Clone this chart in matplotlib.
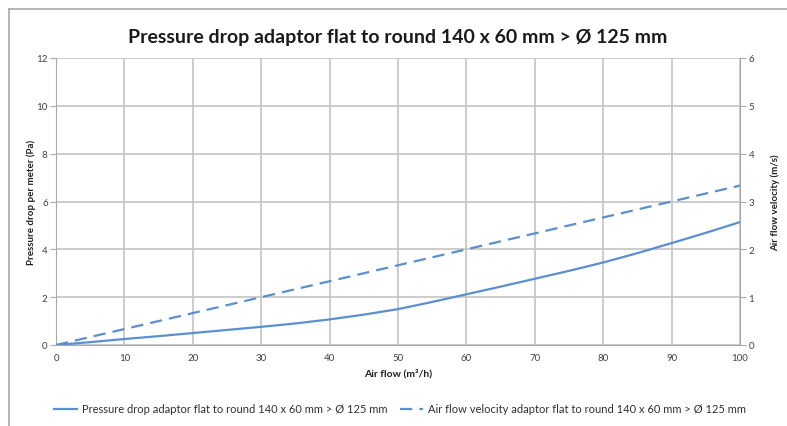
import matplotlib
matplotlib.use("Agg")
import matplotlib.pyplot as plt
from matplotlib.lines import Line2D

plt.rcParams['font.family'] = ['Lato', 'DejaVu Sans']

air_flow = [0, 5, 10, 15, 20, 25, 30, 35, 40, 45, 50, 55, 60, 65, 70, 75, 80, 85, 90, 95, 100]
pressure_drop = [0, 0.12, 0.25, 0.37, 0.5, 0.63, 0.76, 0.9, 1.07, 1.27, 1.5, 1.8, 2.12, 2.44, 2.77, 3.1, 3.45, 3.84, 4.26, 4.69, 5.14]
velocity = [0, 0.167, 0.333, 0.5, 0.667, 0.833, 1.0, 1.167, 1.333, 1.5, 1.667, 1.833, 2.0, 2.167, 2.333, 2.5, 2.667, 2.833, 3.0, 3.167, 3.333]

x_ticks = [0, 10, 20, 30, 40, 50, 60, 70, 80, 90, 100]
left_ticks = [0, 2, 4, 6, 8, 10, 12]
right_ticks = [0, 1, 2, 3, 4, 5, 6]

title = "Pressure drop adaptor flat to round 140 x 60 mm > Ø 125 mm"
label_pressure = "Pressure drop adaptor flat to round 140 x 60 mm > Ø 125 mm"
label_velocity = "Air flow velocity adaptor flat to round 140 x 60 mm > Ø 125 mm"

color = "#5a8fd0"
grid_c = "#c4c4c4"
text_c = "#404040"

fig = plt.figure(figsize=(7.87, 4.27), dpi=100)
ax = fig.add_axes([56/787, 1-346/427, (740-56)/787, (346-59)/427])
ax2 = ax.twinx()

l1, = ax.plot(air_flow, pressure_drop, color=color, lw=1.6, label=label_pressure)
l2, = ax2.plot(air_flow, velocity, color=color, lw=1.6, ls=(0, (5.5, 3.2)), label=label_velocity)

ax.set_xlim(0, 100)
ax.set_ylim(0, 12)
ax2.set_ylim(0, 6)
ax.set_xticks(x_ticks)
ax.set_yticks(left_ticks)
ax2.set_yticks(right_ticks)

ax.grid(True, color=grid_c, lw=1.2)
ax.set_axisbelow(True)
for a in (ax, ax2):
    for s in a.spines.values():
        s.set_visible(False)
ax.spines['left'].set_visible(True)
ax.spines['left'].set_color("#a8a8a8")
ax.spines['bottom'].set_visible(True)
ax.spines['bottom'].set_color("#a8a8a8")
ax2.spines['right'].set_visible(True)
ax2.spines['right'].set_color("#a8a8a8")

ax.tick_params(axis='y', length=4, color="#a8a8a8", labelsize=7, labelcolor=text_c, pad=2)
ax.tick_params(axis='x', length=0, labelsize=7, labelcolor=text_c, pad=6)
ax2.tick_params(axis='y', length=4, color="#a8a8a8", labelsize=7, labelcolor=text_c, pad=2)

ax.set_xlabel("Air flow (m³/h)", fontsize=7.5, fontweight='bold', color="#202020", labelpad=4)
ax.set_ylabel("Pressure drop per meter (Pa)", fontsize=7, fontweight='bold', color="#202020", labelpad=0)
ax2.set_ylabel("Air flow velocity (m/s)", fontsize=7, fontweight='bold', color="#202020", labelpad=12)

fig.text(398/787, 1-38/427, title, ha='center', va='center', fontsize=14, fontweight='bold', color="#1a1a1a")

fig.legend(handles=[l1, l2], loc='center', bbox_to_anchor=(400/787, 1-410/427), ncol=2,
           frameon=False, fontsize=8, handlelength=2.1, columnspacing=1.1, handletextpad=0.45,
           labelcolor="#303030")

fig.add_artist(Line2D([9/787, 9/787], [0, 1-10/427], transform=fig.transFigure, color="#a8a8a8", lw=1.2))
fig.add_artist(Line2D([9/787, 1], [1-10/427, 1-10/427], transform=fig.transFigure, color="#a8a8a8", lw=1.2))

fig.savefig("out.png", dpi=100)
